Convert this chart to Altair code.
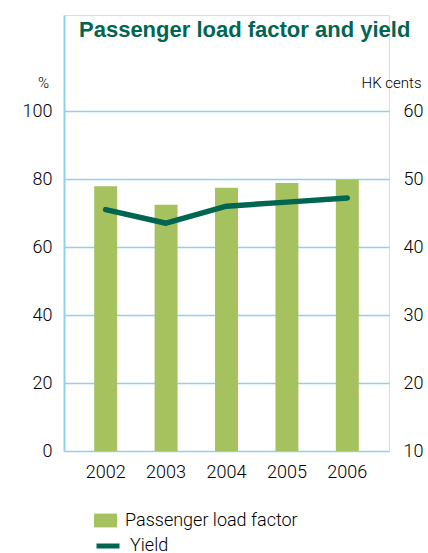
import altair as alt
import pandas as pd

years = ["2002", "2003", "2004", "2005", "2006"]
load_factor = [77.9, 72.4, 77.4, 78.8, 79.8]
yield_cents = [45.5, 43.5, 46.0, 46.6, 47.2]
left_ticks = [0, 20, 40, 60, 80, 100]
right_ticks = [10, 20, 30, 40, 50, 60]
title_text = ["Passenger load factor and yield"]

GREEN = "#a5c25e"
TEAL = "#006652"
BLUE = "#8ed0f0"
TXT = "#000000"
FONT = "Roboto"
W = 300

df = pd.DataFrame({
    "year": years,
    "lf": load_factor,
    "yield": yield_cents,
    "s1": ["Passenger load factor"] * len(years),
    "s2": ["Yield"] * len(years),
})
title_df = pd.DataFrame({"t": title_text})

x_enc = alt.X(
    "year:N", title=None,
    scale=alt.Scale(paddingInner=0.62, paddingOuter=0.5),
    axis=alt.Axis(labelAngle=0, domain=False, ticks=False, labelPadding=12,
                  labelFontSize=18, labelFont=FONT, labelFontWeight=W,
                  labelColor=TXT),
)

bars = alt.Chart(df).mark_bar().encode(
    x=x_enc,
    y=alt.Y(
        "lf:Q",
        scale=alt.Scale(domain=[0, 128.24], nice=False, zero=True),
        axis=alt.Axis(
            orient="left", values=left_ticks, title="%", titleAngle=0,
            titleX=-21, titleY=67, titleAlign="center", titleBaseline="middle",
            titleFont=FONT, titleFontWeight=W, titleFontSize=15, titleColor=TXT,
            grid=True, gridColor=BLUE, gridWidth=1.5,
            domain=True, domainColor=BLUE, domainWidth=2,
            ticks=False, tickSize=0, labelPadding=12,
            labelFontSize=18, labelFont=FONT, labelFontWeight=W, labelColor=TXT,
        ),
    ),
    fill=alt.Fill(
        "s1:N", scale=alt.Scale(range=[GREEN]),
        legend=alt.Legend(
            title=None, orient="none", legendX=30, legendY=494, padding=0,
            symbolType="M-1,-0.6H1V0.6H-1Z", symbolSize=529, symbolStrokeWidth=0,
            labelFontSize=18, labelFont=FONT, labelFontWeight=W, labelColor=TXT,
            labelOffset=8, labelLimit=400,
        ),
    ),
)

line = alt.Chart(df).mark_line(strokeWidth=5.5, strokeCap="round", strokeJoin="round").encode(
    x=x_enc,
    y=alt.Y(
        "yield:Q",
        scale=alt.Scale(domain=[10, 74.12], nice=False, zero=False),
        axis=alt.Axis(
            orient="right", values=right_ticks, title="HK cents", titleAngle=0,
            titleX=32, titleY=67, titleAlign="right", titleBaseline="middle",
            titleFont=FONT, titleFontWeight=W, titleFontSize=15, titleColor=TXT,
            grid=False, domain=False, ticks=False, tickSize=0, labelPadding=14,
            labelFontSize=18, labelFont=FONT, labelFontWeight=W, labelColor=TXT,
        ),
    ),
    stroke=alt.Stroke(
        "s2:N", scale=alt.Scale(range=[TEAL]),
        legend=alt.Legend(
            title=None, orient="none", legendX=30, legendY=517, padding=0,
            symbolType="stroke", symbolSize=529, symbolStrokeWidth=5,
            labelFontSize=18, labelFont=FONT, labelFontWeight=W, labelColor=TXT,
            labelOffset=8, labelLimit=400,
        ),
    ),
)

title = alt.Chart(title_df).mark_text(
    align="left", baseline="alphabetic", fontSize=22,
    font="Liberation Sans", fontWeight="bold", color=TEAL,
).encode(
    text="t:N",
    x=alt.value(15),
    y=alt.value(22),
)

chart = alt.layer(bars, line, title).resolve_scale(
    y="independent", fill="independent", stroke="independent"
).properties(
    width=325, height=436,
    autosize="none",
    padding={"left": 64, "top": 15, "right": 39, "bottom": 102},
).configure_view(stroke=None).configure(background="white")

chart.save("out.html", embed_options={"renderer": "svg", "actions": False})
